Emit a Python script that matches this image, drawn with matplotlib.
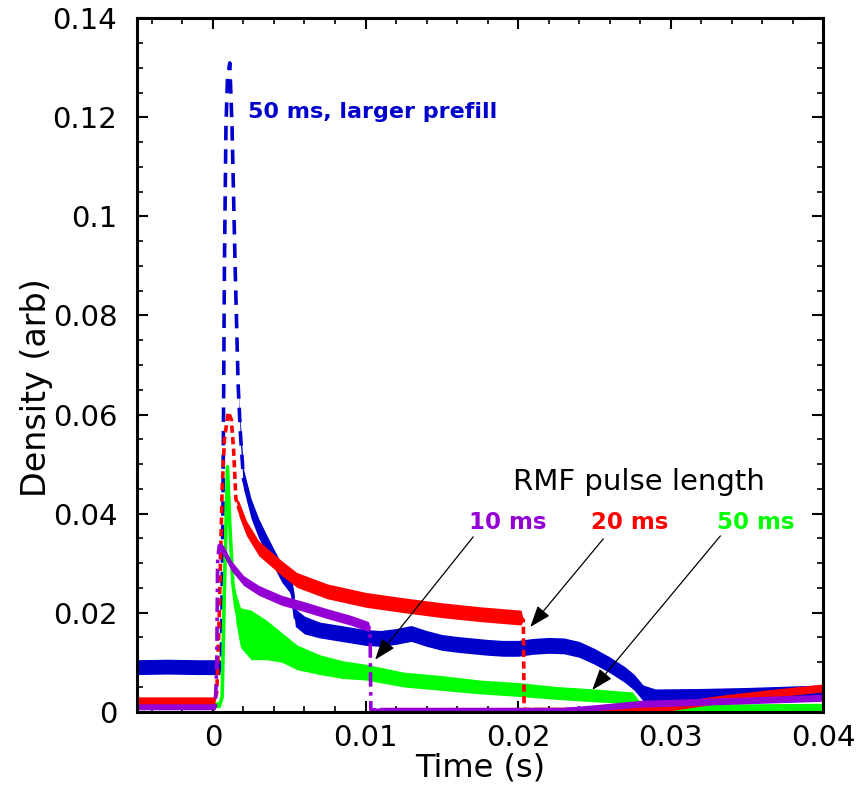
import numpy as np
import matplotlib
matplotlib.use("Agg")
import matplotlib.pyplot as plt
import matplotlib.ticker as mticker

plt.rcParams["font.family"] = ["DejaVu Sans"]

# time in ms, centre of the trace, half-width of the noise band
blue_t = [-5.0, -3.0, -1.0, 0.45, 0.55, 0.65, 0.75, 0.85, 0.95, 1.10, 1.25, 1.45, 1.65, 1.8,
          2.0, 2.5, 3.0, 3.5, 4.0, 4.5, 5.0, 5.2, 5.4, 6.0, 7.0, 8.0, 9.0, 10.0, 11.0, 12.0,
          13.0, 14.0, 15.0, 16.0, 17.0, 18.0, 19.0, 20.0, 21.0, 22.0, 23.0, 24.0, 25.0, 26.0,
          27.0, 27.6, 28.2, 29.0, 32.0, 35.0, 38.0, 40.0]
blue_y = [0.0090, 0.0091, 0.0090, 0.0090, 0.0100, 0.040, 0.090, 0.118, 0.128, 0.131, 0.118,
          0.090, 0.066, 0.056, 0.047, 0.041, 0.037, 0.034, 0.031, 0.028, 0.026, 0.0245, 0.019,
          0.0175, 0.0165, 0.0160, 0.0155, 0.0150, 0.0148, 0.0152, 0.0158, 0.0148, 0.0140,
          0.0136, 0.0133, 0.0130, 0.0128, 0.0128, 0.0132, 0.0134, 0.0133, 0.0126, 0.0112,
          0.0095, 0.0075, 0.0060, 0.0038, 0.0032, 0.0033, 0.0035, 0.0038, 0.0040]
blue_w = [0.0015, 0.0015, 0.0015, 0.0015, 0.0, 0.0, 0.0, 0.0, 0.0, 0.0, 0.0, 0.0, 0.0, 0.002,
          0.002, 0.002, 0.002, 0.0018, 0.0018, 0.0018, 0.0018, 0.0018, 0.0018, 0.0018, 0.0016,
          0.0016, 0.0016, 0.0016, 0.0016, 0.0016, 0.0016, 0.0016, 0.0016, 0.0016, 0.0016,
          0.0016, 0.0016, 0.0016, 0.0016, 0.0016, 0.0016, 0.0016, 0.0016, 0.0016, 0.0016,
          0.0016, 0.0016, 0.0014, 0.0014, 0.0014, 0.0014, 0.0014]

red_t = [-5.0, 0.1, 0.25, 0.4, 0.6, 0.75, 1.0, 1.2, 1.35, 1.5, 1.7, 2.2, 3.0, 4.5, 5.5, 7.5,
         10.0, 12.5, 15.0, 17.5, 20.2, 20.35, 20.4, 21.0, 24.0, 28.0, 30.0, 33.0, 36.0, 40.0]
red_y = [0.0022, 0.0022, 0.0040, 0.018, 0.045, 0.055, 0.0605, 0.059, 0.053, 0.043, 0.041,
         0.037, 0.033, 0.029, 0.0266, 0.0243, 0.0226, 0.0215, 0.0205, 0.0197, 0.0190, 0.0185,
         0.0005, 0.0004, 0.0004, 0.0005, 0.0010, 0.0024, 0.0035, 0.0048]
red_w = [0.0008, 0.0008, 0.0, 0.0, 0.0, 0.0, 0.0, 0.0, 0.0, 0.0, 0.0015, 0.0015, 0.0015,
         0.0015, 0.0015, 0.0015, 0.0015, 0.0015, 0.0015, 0.0015, 0.0015, 0.0, 0.0, 0.0005,
         0.0005, 0.0005, 0.0008, 0.0008, 0.0008, 0.0008]

purple_t = [-5.0, 0.15, 0.25, 0.3, 0.4, 0.7, 1.2, 2.0, 3.0, 4.5, 6.0, 7.5, 9.0, 10.2, 10.3,
            10.35, 11.0, 23.0, 25.0, 28.0, 32.0, 36.0, 40.0]
purple_y = [0.0010, 0.0010, 0.0100, 0.0300, 0.0335, 0.0325, 0.0295, 0.0265, 0.0245, 0.0225,
            0.0212, 0.0198, 0.0185, 0.0172, 0.0165, 0.0004, 0.0004, 0.0004, 0.0008, 0.0016,
            0.0020, 0.0024, 0.0028]
purple_w = [0.0006, 0.0006, 0.0, 0.0, 0.0008, 0.001, 0.001, 0.001, 0.001, 0.001, 0.001,
            0.001, 0.001, 0.001, 0.0, 0.0, 0.0005, 0.0005, 0.0006, 0.0007, 0.0007, 0.0007,
            0.0007]

green_t = [-5.0, 0.45, 0.6, 0.75, 0.95, 1.1, 1.3, 1.5, 1.8, 2.5, 3.5, 4.5, 5.5, 7.0, 8.5,
           10.0, 12.5, 15.0, 17.5, 20.0, 22.5, 25.0, 27.5, 28.0, 31.0, 35.0, 40.0]
green_y = [0.0014, 0.0014, 0.003, 0.025, 0.0495, 0.038, 0.026, 0.021, 0.017, 0.0155, 0.0145,
           0.013, 0.011, 0.0095, 0.0085, 0.0080, 0.0065, 0.0058, 0.0050, 0.0045, 0.0038,
           0.0033, 0.0028, 0.0012, 0.0008, 0.0008, 0.0009]
green_w = [0.0006, 0.0006, 0.0, 0.0, 0.0, 0.0, 0.0, 0.003, 0.004, 0.005, 0.004, 0.003, 0.0025,
           0.002, 0.0018, 0.0016, 0.0015, 0.0015, 0.0014, 0.0014, 0.0013, 0.0013, 0.0012,
           0.0008, 0.0008, 0.0008, 0.0008]

BLUE = "#0000cc"
RED = "#ff0000"
PURPLE = "#9400d3"
GREEN = "#00ff00"


def draw_trace(ax, t_ms, y, w, color, dashes, zorder):
    t = np.asarray(t_ms) * 1e-3
    y = np.asarray(y)
    w = np.asarray(w)
    ax.fill_between(t, y - w, y + w, color=color, lw=0, zorder=zorder)
    line, = ax.plot(t, y, color=color, lw=2.6, zorder=zorder, solid_capstyle="butt")
    if dashes is not None:
        line.set_dashes(dashes)


fig = plt.figure(figsize=(8.6, 7.97), dpi=100)
ax = fig.add_axes([0.159, 0.107, 0.798, 0.870])

draw_trace(ax, blue_t, blue_y, blue_w, BLUE, (4, 2.5), 2)
draw_trace(ax, green_t, green_y, green_w, GREEN, None, 3)
draw_trace(ax, red_t, red_y, red_w, RED, (2, 1.2), 4)
draw_trace(ax, purple_t, purple_y, purple_w, PURPLE, (4, 1.5, 1, 1.5), 5)

ax.set_xlim(-0.005, 0.04)
ax.set_ylim(0, 0.14)
ax.xaxis.set_major_locator(mticker.MultipleLocator(0.01))
ax.xaxis.set_minor_locator(mticker.MultipleLocator(0.002))
ax.yaxis.set_major_locator(mticker.MultipleLocator(0.02))
ax.yaxis.set_minor_locator(mticker.MultipleLocator(0.005))
fmt = mticker.FuncFormatter(lambda v, _p: f"{v:.2f}".rstrip("0").rstrip(".") if abs(v) > 1e-9 else "0")
ax.xaxis.set_major_formatter(fmt)
ax.yaxis.set_major_formatter(fmt)

ax.tick_params(which="both", direction="in", top=True, right=True, colors="black")
ax.tick_params(which="major", length=8, width=1.5, labelsize=21)
ax.tick_params(which="minor", length=4.5, width=1.2)
ax.tick_params(axis="x", pad=9)
ax.tick_params(axis="y", pad=14)
for spine in ax.spines.values():
    spine.set_linewidth(2.2)
    spine.set_zorder(10)

ax.set_xlabel("Time (s)", fontsize=23, labelpad=0)
ax.set_ylabel("Density (arb)", fontsize=24, labelpad=0)
ax.yaxis.label.set_y(0.467)

ax.text(0.0023, 0.121, "50 ms, larger prefill", color=BLUE, fontsize=16,
        fontweight="bold", ha="left", va="center")
ax.text(0.0279, 0.0464, "RMF pulse length", color="black", fontsize=21,
        ha="center", va="center")

arrow = dict(arrowstyle="-|>,head_length=1.1,head_width=0.4", color="black", lw=0.9,
             shrinkA=0, shrinkB=0, mutation_scale=12)
labels = [("10 ms", PURPLE, 0.01936, (0.01706, 0.0353), (0.01063, 0.0105)),
          ("20 ms", RED, 0.0273, (0.02559, 0.0349), (0.0208, 0.0171)),
          ("50 ms", GREEN, 0.03557, (0.03327, 0.0355), (0.02487, 0.0044))]
for text, color, x_text, tail, tip in labels:
    ax.text(x_text, 0.0383, text, color=color, fontsize=16.5, fontweight="bold",
            ha="center", va="center")
    ax.annotate("", xy=tip, xytext=tail, arrowprops=arrow, zorder=8)

fig.savefig("out.png", dpi=100)
